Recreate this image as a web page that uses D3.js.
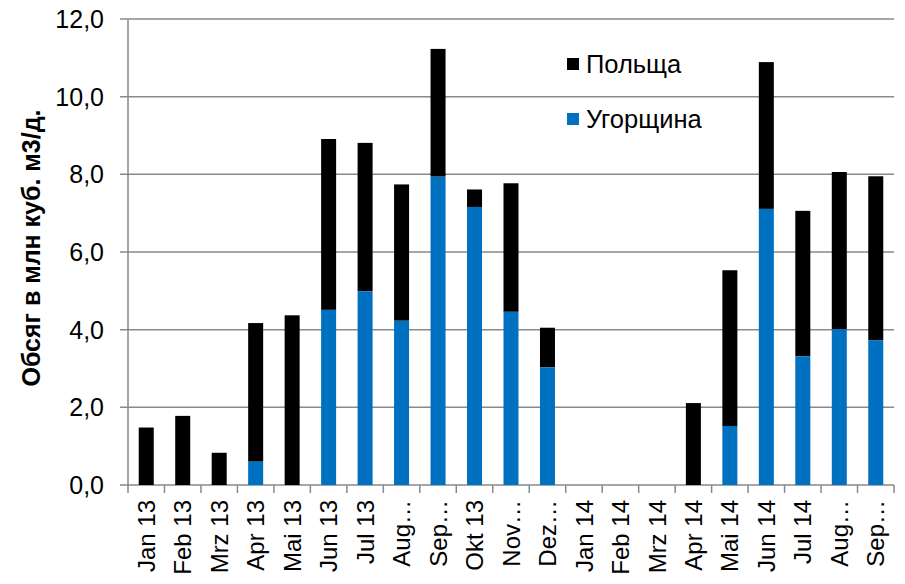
<!DOCTYPE html>
<html>
<head>
<meta charset="utf-8">
<script src="https://cdn.jsdelivr.net/npm/d3@7"></script>
<style>
  body { margin: 0; background: #fff; }
  text { font-family: "Liberation Sans", Arial, sans-serif; }
</style>
</head>
<body>
<script>
var months = ["Jan 13", "Feb 13", "Mrz 13", "Apr 13", "Mai 13", "Jun 13", "Jul 13", "Aug…", "Sep…",
  "Okt 13", "Nov…", "Dez…", "Jan 14", "Feb 14", "Mrz 14", "Apr 14", "Mai 14", "Jun 14", "Jul 14", "Aug…", "Sep…"];
// Hungary (blue, bottom) and total (top of the bar)
var hungary = [0, 0, 0, 0.60, 0, 4.51, 4.99, 4.23, 7.94, 7.16, 4.46, 3.03, 0, 0, 0, 0, 1.52, 7.11, 3.31, 4.01, 3.73];
var total = [1.48, 1.78, 0.83, 4.17, 4.37, 8.91, 8.81, 7.74, 11.23, 7.61, 7.77, 4.05, 0, 0, 0, 2.11, 5.53, 10.89, 7.06, 8.06, 7.95];
var yTicks = [0, 2, 4, 6, 8, 10, 12];
var seriesNames = ["Польща", "Угорщина"];
var seriesColors = ["#000000", "#0070c0"];

var w = 905, h = 584;
var margin = { top: 19, bottom: 99, left: 128, right: 11 };

var svg = d3.select("body").append("svg")
    .attr("width", w)
    .attr("height", h)

var x = d3.scaleBand()
  .domain(d3.range(months.length))
  .range([margin.left, w - margin.right])

var y = d3.scaleLinear()
  .domain([0, 12])
  .range([h - margin.bottom, margin.top])

var barW = 15;

// gridlines with small outside ticks on the left
svg.append("g").selectAll("line").data(yTicks).enter().append("line")
  .attr("x1", margin.left - 8)
  .attr("x2", w - margin.right)
  .attr("y1", function(d) { return y(d); })
  .attr("y2", function(d) { return y(d); })
  .attr("stroke", "#898989")
  .attr("stroke-width", 1.5)

svg.append("g").selectAll("text").data(yTicks).enter().append("text")
  .attr("x", 104)
  .attr("y", function(d) { return y(d); })
  .attr("dy", "0.36em")
  .attr("text-anchor", "end")
  .attr("font-size", 25)
  .attr("fill", "#000")
  .text(function(d) { return d3.format(".1f")(d).replace(".", ","); })

// Poland part = total - hungary
var bars = svg.append("g").selectAll("g").data(months).enter().append("g");

bars.append("rect")
  .attr("x", function(d, i) { return x(i) + (x.bandwidth() - barW) / 2; })
  .attr("width", barW)
  .attr("y", function(d, i) { return y(total[i]); })
  .attr("height", function(d, i) { return y(hungary[i]) - y(total[i]); })
  .attr("fill", seriesColors[0])

bars.append("rect")
  .attr("x", function(d, i) { return x(i) + (x.bandwidth() - barW) / 2; })
  .attr("width", barW)
  .attr("y", function(d, i) { return y(hungary[i]); })
  .attr("height", function(d, i) { return y(0) - y(hungary[i]); })
  .attr("fill", seriesColors[1])

// axes lines
svg.append("line")
  .attr("x1", margin.left).attr("x2", margin.left)
  .attr("y1", y(12)).attr("y2", y(0))
  .attr("stroke", "#898989").attr("stroke-width", 1.5)

var ticksX = d3.range(months.length + 1).map(function(i) { return margin.left + i * x.step(); });
svg.append("g").selectAll("line").data(ticksX).enter().append("line")
  .attr("x1", function(d) { return d; })
  .attr("x2", function(d) { return d; })
  .attr("y1", y(0))
  .attr("y2", y(0) + 8)
  .attr("stroke", "#898989").attr("stroke-width", 1.5)

svg.append("g").selectAll("text").data(months).enter().append("text")
  .attr("transform", function(d, i) {
    return "translate(" + (x(i) + x.bandwidth() / 2) + "," + (y(0) + 15) + ") rotate(-90)";
  })
  .attr("dy", "0.36em")
  .attr("text-anchor", "end")
  .attr("font-size", 24)
  .text(function(d) { return d; })

// y title
svg.append("text")
  .attr("transform", "translate(31,248) rotate(-90)")
  .attr("dy", "0.36em")
  .attr("text-anchor", "middle")
  .attr("font-size", 25)
  .attr("font-weight", "bold")
  .text("Обсяг в млн куб. м3/д.")

// legend
var legend = svg.append("g").selectAll("g").data(seriesNames).enter().append("g")
  .attr("transform", function(d, i) { return "translate(567," + (58 + i * 55) + ")"; });

legend.append("rect")
  .attr("width", 12).attr("height", 12)
  .attr("fill", function(d, i) { return seriesColors[i]; })

legend.append("text")
  .attr("x", 19)
  .attr("y", 15)
  .attr("font-size", 25.5)
  .text(function(d) { return d; })
</script>
</body>
</html>
